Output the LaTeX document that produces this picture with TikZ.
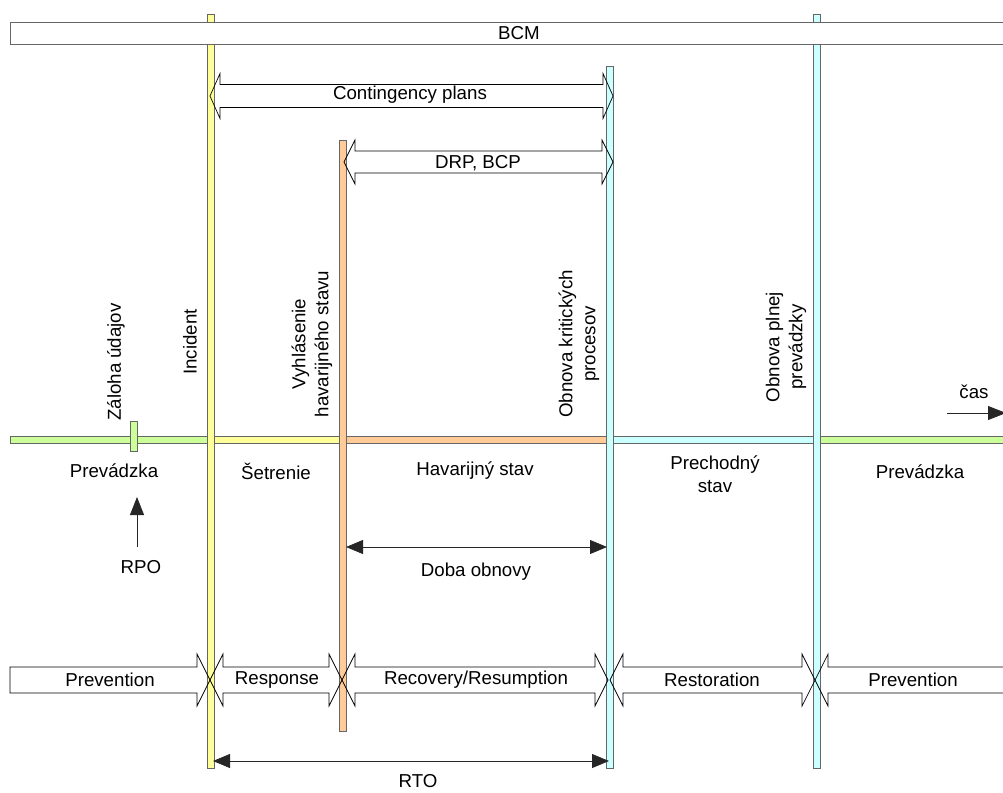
\documentclass[tikz,border=0pt]{standalone}
\usepackage{fontspec}
\setmainfont{Liberation Sans}
\usepackage{tikz}
\usetikzlibrary{arrows.meta}

\definecolor{opgreen}{HTML}{CCFF99}
\definecolor{incyellow}{HTML}{FFFF99}
\definecolor{emorange}{HTML}{FFCC99}
\definecolor{reccyan}{HTML}{CCFFFF}

\tikzset{
  lbl/.style={font=\fontsize{18.7}{23}\selectfont, inner sep=0pt},
  vlbl/.style={lbl, rotate=90, align=center},
  bar/.style={draw=black!60, line width=0.9pt},
  blk/.style={draw=black, line width=0.7pt},
  tip/.style={draw=black!85, line width=0.8pt, -{Triangle[length=18pt,width=14pt]}},
  dbltip/.style={draw=black!85, line width=0.8pt, {Triangle[length=17pt,width=14pt]}-{Triangle[length=17pt,width=14pt]}}
}

% block double arrow: x1, x2, y, half body, half head, head length
\newcommand\dblarr[6]{%
  \draw[blk] (#1,#3) -- ({#1+#6},{#3-#5}) -- ({#1+#6},{#3-#4}) -- ({#2-#6},{#3-#4})
    -- ({#2-#6},{#3-#5}) -- (#2,#3) -- ({#2-#6},{#3+#5}) -- ({#2-#6},{#3+#4})
    -- ({#1+#6},{#3+#4}) -- ({#1+#6},{#3+#5}) -- cycle;}

\begin{document}
\begin{tikzpicture}[x=1pt,y=-1pt]
  \useasboundingbox (0,0) rectangle (1003,792);

  % time line
  \draw[bar, fill=opgreen] (10,436) rectangle (210,443);
  \draw[bar, fill=incyellow] (210,436) rectangle (342,443);
  \draw[bar, fill=emorange] (342,436) rectangle (610,443);
  \draw[bar, fill=reccyan] (610,436) rectangle (816,443);
  \draw[bar, fill=opgreen] (816,436) rectangle (1012,443);

  % milestones
  \draw[bar, fill=incyellow] (207,14) rectangle (214,768);
  \draw[bar, fill=emorange] (339,140) rectangle (346,731);
  \draw[bar, fill=reccyan] (606,66) rectangle (613,768);
  \draw[bar, fill=reccyan] (813,14) rectangle (820,768);
  \draw[bar, fill=opgreen] (130,421) rectangle (137,451);

  % BCM
  \draw[bar, fill=white] (10,22) rectangle (1012,44);
  \node[lbl] (bcm) at (519,33) {BCM};

  % plans
  \dblarr{210}{613}{96}{11.5}{22.5}{10}
  \node[lbl] (cont) at (410,95) {Contingency plans};
  \dblarr{344}{613}{162}{11}{22}{11}
  \node[lbl] (drp) at (478,163) {DRP, BCP};

  % phases
  \draw[blk] (10,667) -- (197,667) -- (197,654) -- (210,680) -- (197,706) -- (197,693) -- (10,693) -- cycle;
  \dblarr{210}{342}{680}{13}{26}{13}
  \dblarr{342}{608}{680}{13}{26}{13}
  \dblarr{610}{815}{680}{13}{26}{13}
  \dblarr{815}{1040}{680}{13}{26}{13}
  \node[lbl] (prev1) at (110,680) {Prevention};
  \node[lbl] (resp) at (277,680) {Response};
  \node[lbl] (recov) at (476,680) {Recovery/Resumption};
  \node[lbl] (resto) at (712,680) {Restoration};
  \node[lbl] (prev2) at (913,680) {Prevention};

  % events
  \node[vlbl] (zaloha) at (116,362) {Záloha údajov};
  \node[vlbl] (incid) at (190,342) {Incident};
  \node[vlbl] (vyhl) at (312,344) {Vyhlásenie\\havarijného stavu};
  \node[vlbl] (krit) at (579,344) {Obnova kritických\\procesov};
  \node[vlbl] (plna) at (786,347) {Obnova plnej\\prevádzky};

  % states
  \node[lbl] (stav1) at (114,471) {Prevádzka};
  \node[lbl] (stav2) at (276,471) {Šetrenie};
  \node[lbl] (stav3) at (475,471) {Havarijný stav};
  \node[lbl, align=center] (stav4) at (715,474) {Prechodný\\stav};
  \node[lbl] (stav5) at (920,472) {Prevádzka};

  % RPO
  \node[lbl] (rpo) at (141,567) {RPO};
  \coordinate (rpo-a) at (137,547);
  \coordinate (rpo-b) at (137,497);
  \draw[tip] (rpo-a) -- (rpo-b);

  % doba obnovy
  \coordinate (doba-l) at (346,547);
  \coordinate (doba-r) at (607,547);
  \draw[dbltip] (doba-l) -- (doba-r);
  \node[lbl] (doba) at (476,572) {Doba obnovy};

  % RTO
  \coordinate (rto-l) at (213,761);
  \coordinate (rto-r) at (609,761);
  \draw[dbltip] (rto-l) -- (rto-r);
  \node[lbl] (rto) at (418,781) {RTO};

  % cas
  \node[lbl] (cas) at (974,392) {čas};
  \coordinate (cas-a) at (947,413);
  \coordinate (cas-b) at (1006,413);
  \draw[tip] (cas-a) -- (cas-b);
\end{tikzpicture}
\end{document}
